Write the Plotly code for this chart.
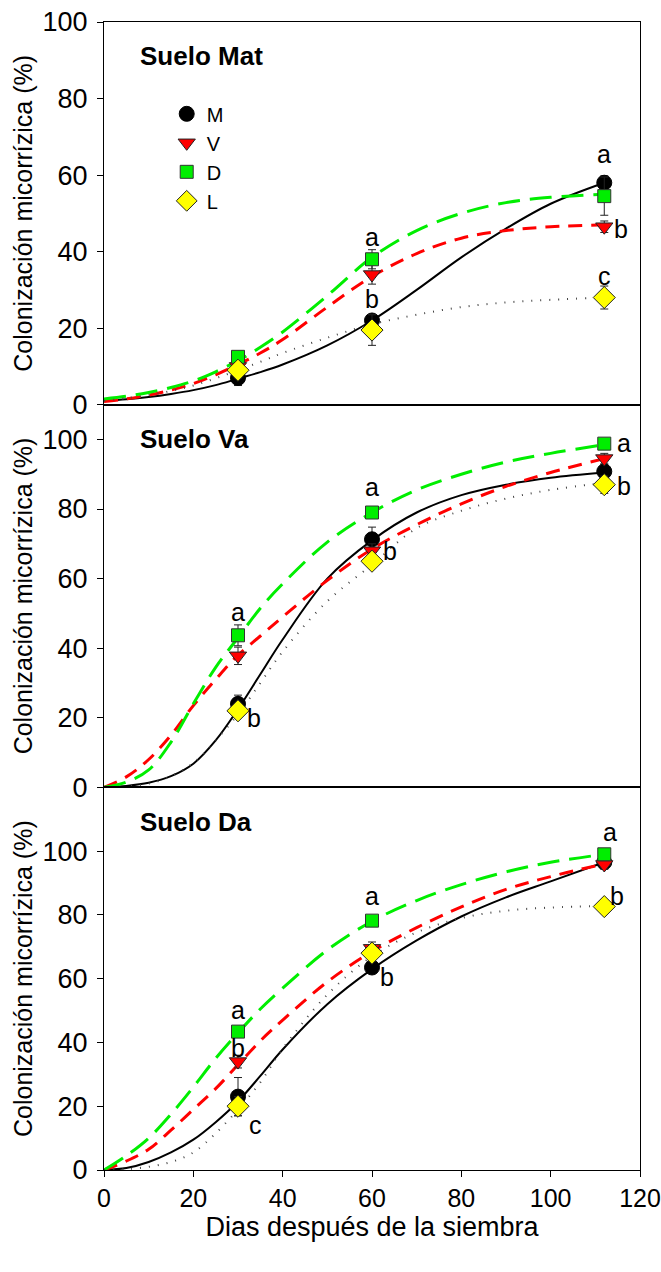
import plotly.graph_objects as go
from plotly.subplots import make_subplots

# Sampling days
days = [30, 60, 112]
curve_days = [0, 5, 10, 15, 20, 25, 30, 35, 40, 50, 60, 70, 80, 90, 100, 112]

treatments = ["M", "V", "D", "L"]
soils = ["Suelo Mat", "Suelo Va", "Suelo Da"]

# Mean colonization (%) per soil and treatment
mat_M = [7, 22, 58]
mat_V = [10, 34, 46.5]
mat_D = [12.5, 38, 54.5]
mat_L = [9, 19.5, 28]

va_M = [24, 71.3, 90.8]
va_V = [37.8, 68, 94.5]
va_D = [43.7, 79, 98.8]
va_L = [22, 65, 87]

da_M = [23, 63.5, 96.5]
da_V = [34, 69.5, 95.8]
da_D = [43.4, 78.2, 99]
da_L = [20, 68, 82.6]

# Standard errors
mat_M_err = [2, 1, 1.8]
mat_V_err = [1.5, 2.5, 1.5]
mat_D_err = [1, 2.5, 5]
mat_L_err = [2, 4, 3]

va_M_err = [2.5, 3.5, 2]
va_V_err = [2.5, 2, 1.5]
va_D_err = [3, 1.5, 1.5]
va_L_err = [1.5, 1.5, 2.5]

da_M_err = [6, 1.5, 1.5]
da_V_err = [2, 2, 1.5]
da_D_err = [1.5, 1.5, 1.5]
da_L_err = [3, 2.5, 2]

# Fitted growth curves
fit_mat_M = [1.0, 1.4, 2.0, 2.8, 3.8, 5.1, 6.8, 8.5, 10.5, 15.5, 22, 30, 38.5, 46, 52.5, 58]
fit_mat_V = [0.8, 1.5, 2.5, 3.8, 5.5, 7.8, 10.5, 13.5, 17, 25.5, 33.5, 39.5, 43.5, 45.5, 46.5, 47]
fit_mat_D = [1.5, 2.2, 3.2, 4.5, 6.2, 8.6, 11.5, 15, 19, 28.5, 38.5, 45.5, 50, 52.8, 54.2, 55]
fit_mat_L = [1, 1.7, 2.5, 3.6, 5, 6.9, 9, 11.2, 13.5, 17.5, 21, 23.5, 25.5, 26.7, 27.4, 28]

fit_va_M = [0, 0.4, 1.3, 3.2, 6.8, 13.5, 22.5, 32.5, 42.5, 60, 71, 79, 84, 87, 89, 90.5]
fit_va_V = [0, 3, 8, 15, 23.5, 31, 38, 43.5, 49, 59.5, 68.5, 75.5, 81.5, 86.5, 90.5, 94.5]
fit_va_D = [0, 1.5, 5, 13, 24, 34.5, 43, 51.5, 58.5, 70.5, 79, 85.5, 90, 93.5, 96, 98.5]
fit_va_L = [0, 0.3, 1.1, 3.2, 7, 13.5, 21, 30, 39, 53.5, 64, 74.5, 79.5, 83, 85.5, 87.5]

fit_da_M = [0, 0.6, 2.5, 5.5, 9.5, 15, 21.5, 29.5, 37.8, 52, 63, 72, 79.5, 85.5, 90.5, 96.5]
fit_da_V = [0, 2.8, 6.5, 12.5, 19, 25.5, 33, 40.5, 47, 59, 68.5, 76, 82.5, 88, 92, 96]
fit_da_D = [0, 4.5, 10, 17.5, 26, 35, 43, 50.5, 57, 69, 78, 84.5, 89.5, 93.5, 96.5, 99]
fit_da_L = [0, 0.3, 1, 2.5, 5.5, 11.5, 19, 27.5, 38, 55, 67, 74.5, 79, 81.3, 82.3, 82.8]

# Significance letters: (day, y, letter)
mat_letters = [(60, 43.7, "a"), (60, 27.6, "b"), (112, 65.4, "a"), (115.8, 45.8, "b"), (112, 33.6, "c")]
va_letters = [(30, 50.3, "a"), (33.6, 19.8, "b"), (60, 86.2, "a"), (64, 67.8, "b"),
              (116.4, 99.1, "a"), (116.4, 86.5, "b")]
da_letters = [(30, 50.3, "a"), (30, 38.3, "b"), (34, 14.1, "c"), (60, 85.8, "a"), (63.3, 60.6, "b"),
              (113.3, 105.9, "a"), (114.8, 85.8, "b")]

y_ranges = [[0, 100], [0, 110], [0, 120]]

means = [
    [mat_M, mat_V, mat_D, mat_L],
    [va_M, va_V, va_D, va_L],
    [da_M, da_V, da_D, da_L],
]
errors = [
    [mat_M_err, mat_V_err, mat_D_err, mat_L_err],
    [va_M_err, va_V_err, va_D_err, va_L_err],
    [da_M_err, da_V_err, da_D_err, da_L_err],
]
fits = [
    [fit_mat_M, fit_mat_V, fit_mat_D, fit_mat_L],
    [fit_va_M, fit_va_V, fit_va_D, fit_va_L],
    [fit_da_M, fit_da_V, fit_da_D, fit_da_L],
]
letters = [mat_letters, va_letters, da_letters]

FONT = "Liberation Sans, Arial, sans-serif"

line_styles = {
    "M": dict(color="black", width=2, dash="solid"),
    "V": dict(color="#ff0000", width=3, dash="14px,9px"),
    "D": dict(color="#00ee00", width=3, dash="22px,10px"),
    "L": dict(color="#444444", width=2, dash="1px,8px"),
}
marker_styles = {
    "M": dict(symbol="circle", color="black", size=15, line=dict(color="black", width=1)),
    "V": dict(symbol="triangle-down", color="#ff0000", size=15, line=dict(color="#222222", width=1)),
    "D": dict(symbol="square", color="#00ee00", size=13, line=dict(color="#333333", width=1)),
    "L": dict(symbol="diamond", color="#ffff00", size=17, line=dict(color="#222222", width=1)),
}

fig = make_subplots(rows=3, cols=1, shared_xaxes=True, vertical_spacing=0)

for p in range(3):
    row = p + 1
    # curves first so markers sit on top
    for t, name in enumerate(treatments):
        fig.add_trace(go.Scatter(
            x=curve_days, y=fits[p][t], mode="lines",
            line=dict(shape="spline", **line_styles[name]),
            showlegend=False, hoverinfo="skip",
        ), row=row, col=1)
    for t, name in enumerate(treatments):
        fig.add_trace(go.Scatter(
            x=days, y=means[p][t], mode="markers", name=name,
            marker=marker_styles[name],
            error_y=dict(type="data", array=errors[p][t], color="#222222", thickness=1, width=4),
            showlegend=(p == 0),
        ), row=row, col=1)

    xref = "x" if p == 0 else f"x{row}"
    yref = "y" if p == 0 else f"y{row}"
    for (dx, dy, txt) in letters[p]:
        fig.add_annotation(x=dx, y=dy, xref=xref, yref=yref, text=txt, showarrow=False,
                           font=dict(family=FONT, size=25, color="black"))
    fig.add_annotation(x=0.063, y=0.91, xref=f"{xref} domain", yref=f"{yref} domain",
                       text=f"<b>{soils[p]}</b>", showarrow=False, xanchor="left", yanchor="middle",
                       font=dict(family=FONT, size=26, color="black"))

    fig.update_yaxes(
        range=y_ranges[p], tickvals=[0, 20, 40, 60, 80, 100],
        ticks="outside", ticklen=6, tickwidth=1, tickcolor="black",
        showline=True, mirror=True, linecolor="black", linewidth=1,
        showgrid=False, zeroline=False, automargin=False,
        ticklabelstandoff=4,
        tickfont=dict(family=FONT, size=27, color="black"),
        title=dict(text="Colonización micorrízica (%)", standoff=2,
                   font=dict(family=FONT, size=25, color="black")),
        row=row, col=1,
    )
    fig.update_xaxes(
        range=[0, 120], tickvals=[0, 20, 40, 60, 80, 100, 120],
        showline=True, mirror=True, linecolor="black", linewidth=1,
        showgrid=False, zeroline=False, automargin=False,
        ticks="outside" if row == 3 else "", ticklen=6, tickwidth=1, tickcolor="black",
        showticklabels=(row == 3),
        tickfont=dict(family=FONT, size=25, color="black"),
        row=row, col=1,
    )

fig.update_xaxes(title=dict(text="Dias después de la siembra", standoff=6,
                            font=dict(family=FONT, size=27, color="black")), row=3, col=1)

fig.update_layout(
    width=661, height=1272,
    margin=dict(l=104, r=21, t=22, b=102),
    paper_bgcolor="white", plot_bgcolor="white",
    font=dict(family=FONT, color="black"),
    legend=dict(x=0.117, y=0.937, xanchor="left", yanchor="top",
                bgcolor="rgba(0,0,0,0)", font=dict(family=FONT, size=20, color="black"),
                tracegroupgap=0),
)

fig.write_html("out.html")
